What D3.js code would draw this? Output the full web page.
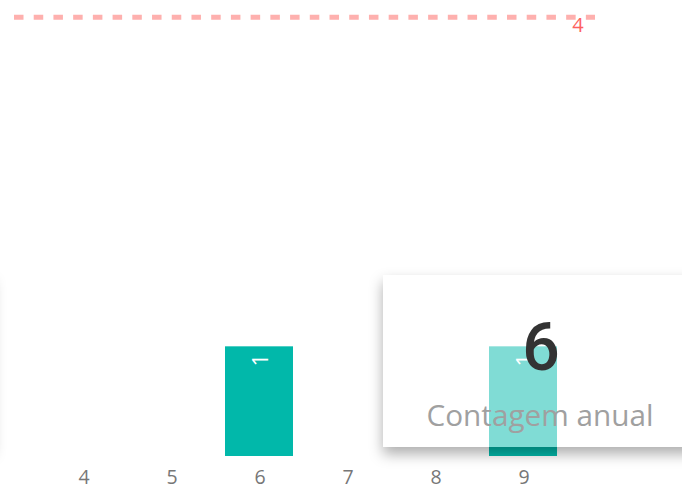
<!DOCTYPE html>
<html>
<head>
<meta charset="utf-8">
<script src="https://cdn.jsdelivr.net/npm/d3@7"></script>
<style>
  html, body { margin: 0; padding: 0; background: #ffffff; }
  svg { display: block; }
  text { font-family: "Segoe UI", "Open Sans", sans-serif; }
</style>
</head>
<body>
<svg id="chart" width="682" height="490"></svg>
<script>
// ---- data ----
const categories = ["4", "5", "6", "7", "8", "9"];
const counts = [0, 0, 1, 0, 0, 1];
const referenceValue = 4;
const referenceLabel = "4";
const cardValue = "6";
const cardLabel = "Contagem anual";
const yDomain = [0, 4];

// ---- setup ----
const svg = d3.select("#chart");

const x = d3.scaleBand()
  .domain(categories)
  .range([13, 593])
  .paddingInner(0.2273)
  .paddingOuter(0.409);

const y = d3.scaleLinear().domain(yDomain).range([456, 17.3]);

const defs = svg.append("defs");
const f = defs.append("filter").attr("id", "cardShadow")
  .attr("x", "-20%").attr("y", "-30%").attr("width", "140%").attr("height", "160%");
f.append("feGaussianBlur").attr("in", "SourceAlpha").attr("stdDeviation", 7).attr("result", "blur");
f.append("feOffset").attr("in", "blur").attr("dx", 0).attr("dy", 7).attr("result", "off");
f.append("feFlood").attr("flood-color", "#000").attr("flood-opacity", 0.32).attr("result", "col");
f.append("feComposite").attr("in", "col").attr("in2", "off").attr("operator", "in").attr("result", "sh");
f.append("feComposite").attr("in", "sh").attr("in2", "SourceAlpha").attr("operator", "out");

// ---- reference line ----
const [x0, x1] = x.range();
svg.append("line")
  .attr("x1", x0 + 1).attr("x2", x1 + 2)
  .attr("y1", y(referenceValue)).attr("y2", y(referenceValue))
  .attr("stroke", "#FD625E").attr("stroke-opacity", 0.5)
  .attr("stroke-width", 5)
  .attr("stroke-dasharray", "9.5,10.22");

svg.append("text")
  .attr("x", x1 - 15).attr("y", y(referenceValue) + 15)
  .attr("text-anchor", "middle")
  .attr("fill", "#FD625E")
  .attr("font-size", 20)
  .text(referenceLabel);

// ---- bars ----
const data = categories.map((c, i) => ({ c, v: counts[i] }));
const bars = data.filter(d => d.v > 0);

svg.append("g").selectAll("rect").data(bars).join("rect")
  .attr("x", d => x(d.c))
  .attr("y", d => y(d.v))
  .attr("width", x.bandwidth())
  .attr("height", d => y(0) - y(d.v))
  .attr("fill", "#01B8AA");

svg.append("g").selectAll("text").data(bars).join("text")
  .attr("transform", d => `translate(${x(d.c) + x.bandwidth() / 2 + 9},${y(d.v) + 14}) rotate(-90)`)
  .attr("text-anchor", "middle")
  .attr("fill", "#ffffff")
  .attr("font-size", 22)
  .attr("font-weight", 400)
  .text(d => d.v);

// ---- x axis labels ----
const axis = d3.axisBottom(x).tickSize(0).tickPadding(0).offset(1);
const ax = svg.append("g").attr("transform", `translate(1,${y(0)})`).call(axis);
ax.select(".domain").remove();
ax.selectAll("text")
  .attr("y", 28)
  .attr("dy", 0)
  .attr("fill", "#777777")
  .attr("font-size", 19.5)
  .style("font-family", "'Segoe UI', 'Open Sans', sans-serif");

// ---- cards (overlay) ----
const cardTop = 275, cardH = 172;
// off-screen card on the left (only its shadow is visible)
svg.append("rect")
  .attr("x", -336).attr("y", cardTop).attr("width", 328).attr("height", cardH)
  .attr("fill", "#fff").attr("filter", "url(#cardShadow)");

const cardX = 383, cardW = 314;
svg.append("rect")
  .attr("x", cardX).attr("y", cardTop).attr("width", cardW).attr("height", cardH)
  .attr("fill", "#fff").attr("filter", "url(#cardShadow)");
svg.append("rect")
  .attr("x", cardX).attr("y", cardTop).attr("width", cardW).attr("height", cardH)
  .attr("fill", "#fff").attr("fill-opacity", 0.5);

const cx = cardX + cardW / 2;
svg.append("text")
  .attr("x", cx + 1).attr("y", 369.5)
  .attr("text-anchor", "middle")
  .attr("fill", "#333333")
  .attr("font-size", 66)
  .attr("font-weight", 500)
  .style("font-family", "Roboto, 'Open Sans', sans-serif")
  .text(cardValue);

const lab = svg.append("text")
  .attr("x", cx).attr("y", 426)
  .attr("text-anchor", "middle")
  .attr("fill", "#A0A0A0")
  .attr("font-size", 32)
  .text(cardLabel);
const w = lab.node().getComputedTextLength();
if (w > 0) lab.attr("font-size", 32 * 227 / w);
</script>
</body>
</html>
